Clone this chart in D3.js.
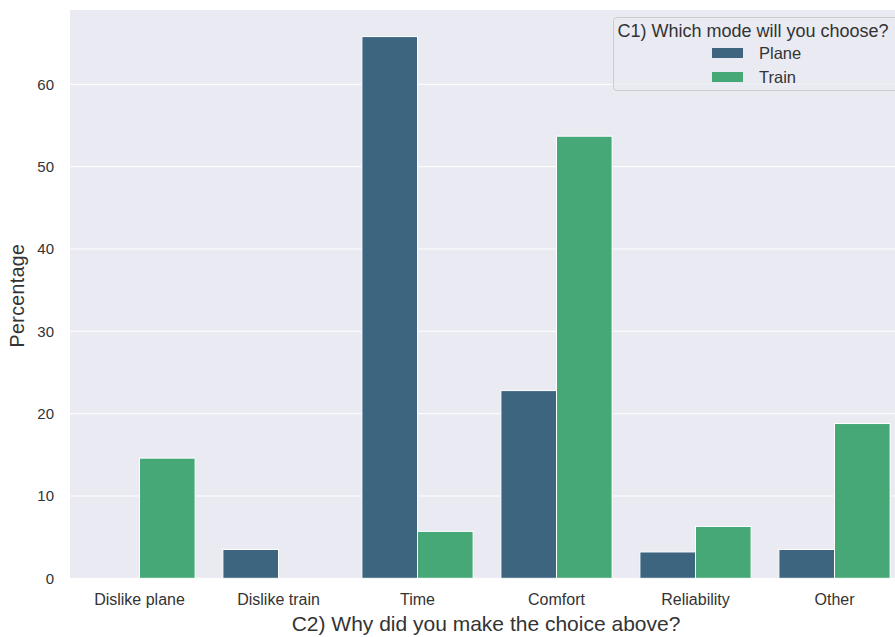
<!DOCTYPE html>
<html><head><meta charset="utf-8">
<script src="https://cdn.jsdelivr.net/npm/d3@7"></script>
<style>body{margin:0;background:#fff}svg{display:block}text{font-family:"Liberation Sans",Arial,sans-serif}</style>
</head><body><svg id="c" width="895" height="637"></svg>
<script>
const categories = ["Dislike plane","Dislike train","Time","Comfort","Reliability","Other"];
const seriesNames = ["Plane","Train"];
const planeValues = [0, 3.5, 65.8, 22.8, 3.2, 3.5];
const trainValues = [14.6, 0, 5.7, 53.7, 6.3, 18.8];
const yTicks = [0,10,20,30,40,50,60];
const colors = ["#3d6580","#46a877"];

const svg = d3.select("#c");
const L = 70, T = 10, R = 904, B = 578.3;
const x = d3.scaleBand().domain(categories).range([L,R]).padding(0);
const inner = d3.scaleBand().domain(seriesNames).range([x.bandwidth()*0.1, x.bandwidth()*0.9]).padding(0);
const y = d3.scaleLinear().domain([0, 69.03]).range([B, T]);

svg.append("rect").attr("x",L).attr("y",T).attr("width",R-L).attr("height",B-T).attr("fill","#eaeaf2");

// grid
svg.append("g").selectAll("line").data(yTicks).join("line")
  .attr("x1",L).attr("x2",R).attr("y1",d=>y(d)).attr("y2",d=>y(d))
  .attr("stroke","#fff").attr("stroke-width",1);

// y axis
const ya = svg.append("g").attr("transform",`translate(${L},0)`).call(d3.axisLeft(y).tickValues(yTicks).tickSize(0).tickPadding(16));
ya.select(".domain").remove();
ya.selectAll("text").attr("font-size",15).attr("fill","#333").attr("font-family","Liberation Sans, Arial, sans-serif");

// x axis
const xa = svg.append("g").attr("transform",`translate(0,${B})`).call(d3.axisBottom(x).tickSize(0).tickPadding(15));
xa.select(".domain").remove();
xa.selectAll("text").attr("font-size",16).attr("fill","#333").attr("font-family","Liberation Sans, Arial, sans-serif");

const data = categories.map((c,i)=>({cat:c, vals:[{s:"Plane",v:planeValues[i],k:0},{s:"Train",v:trainValues[i],k:1}]}));
svg.append("g").selectAll("g").data(data).join("g")
  .attr("transform",d=>`translate(${x(d.cat)},0)`)
  .selectAll("rect").data(d=>d.vals).join("rect")
  .attr("x",d=>inner(d.s)).attr("width",inner.bandwidth())
  .attr("y",d=>y(d.v)).attr("height",d=>B-y(d.v))
  .attr("fill",d=>colors[d.k]).attr("stroke","#fff").attr("stroke-width",1);

// axis labels
svg.append("text").attr("x",486).attr("y",631).attr("text-anchor","middle").attr("font-size",21).attr("fill","#333")
  .text("C2) Why did you make the choice above?");
svg.append("text").attr("transform","translate(24,295.5) rotate(-90)").attr("text-anchor","middle").attr("font-size",19.5).attr("letter-spacing",0.4).attr("fill","#333")
  .text("Percentage");

// legend
const lg = svg.append("g");
lg.append("rect").attr("x",613.5).attr("y",17.5).attr("width",300).attr("height",73).attr("rx",3)
  .attr("fill","#eaeaf2").attr("fill-opacity",0.8).attr("stroke","#cccccc").attr("stroke-width",1);
lg.append("text").attr("x",753).attr("y",37).attr("text-anchor","middle").attr("font-size",18).attr("fill","#333")
  .text("C1) Which mode will you choose?");
seriesNames.forEach((s,i)=>{
  const yy = 53 + i*24;
  lg.append("rect").attr("x",712).attr("y",yy-5).attr("width",31).attr("height",10).attr("fill",colors[i]);
  lg.append("text").attr("x",759).attr("y",yy+6).attr("font-size",16.5).attr("fill","#333").text(s);
});
</script></body></html>
